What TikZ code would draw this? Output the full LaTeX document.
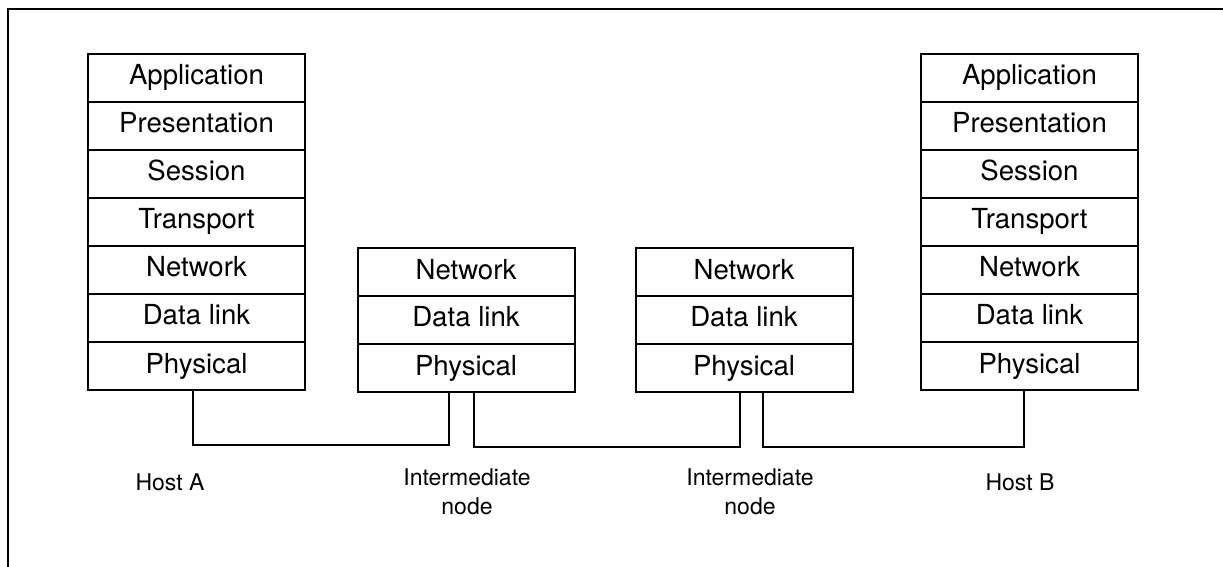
\documentclass[tikz,border=0pt]{standalone}
\usepackage{fontspec}
\setmainfont{TeX Gyre Heros}
\usepackage{tikz}
\usetikzlibrary{positioning}
\newcommand{\layerfont}{\fontsize{13.8}{16}\selectfont}
\newcommand{\labelfont}{\fontsize{11.5}{14.5}\selectfont}

\begin{document}
\begin{tikzpicture}[x=0.5pt,y=-0.5pt,line width=1pt,
  layer/.style={draw,rectangle,outer sep=0pt,inner sep=0pt,minimum width=108.5pt,minimum height=24pt,
    text height=9.7pt,text depth=2.7pt,font=\layerfont},
  hostlabel/.style={align=center,font=\labelfont}]
  \useasboundingbox (0,0) rectangle (1223,567);
  \draw (1223,9) -- (8,9) -- (8,567);
  % Host A
  \node[layer] (a1) at (196.5,78) {Application};
  \node[layer,below=0pt of a1] (a2) {Presentation};
  \node[layer,below=0pt of a2] (a3) {Session};
  \node[layer,below=0pt of a3] (a4) {Transport};
  \node[layer,below=0pt of a4] (a5) {Network};
  \node[layer,below=0pt of a5] (a6) {Data link};
  \node[layer,below=0pt of a6] (a7) {Physical};
  % first intermediate node
  \node[layer] (m1) at (466,272) {Network};
  \node[layer,below=0pt of m1] (m2) {Data link};
  \node[layer,below=0pt of m2] (m3) {Physical};
  % second intermediate node
  \node[layer] (n1) at (744,272) {Network};
  \node[layer,below=0pt of n1] (n2) {Data link};
  \node[layer,below=0pt of n2] (n3) {Physical};
  % Host B
  \node[layer] (b1) at (1029.5,78) {Application};
  \node[layer,below=0pt of b1] (b2) {Presentation};
  \node[layer,below=0pt of b2] (b3) {Session};
  \node[layer,below=0pt of b3] (b4) {Transport};
  \node[layer,below=0pt of b4] (b5) {Network};
  \node[layer,below=0pt of b5] (b6) {Data link};
  \node[layer,below=0pt of b6] (b7) {Physical};
  % links
  \draw ([xshift=-2pt]a7.south) -- ++(0,55) -| ([xshift=-8.5pt]m3.south);
  \draw ([xshift=4pt]m3.south) -- ++(0,55) -| ([xshift=-2pt]n3.south);
  \draw ([xshift=9.5pt]n3.south) -- ++(0,55) -| ([xshift=-3pt]b7.south);
  % labels
  \node[hostlabel] (labA) at (170,482) {Host A};
  \node[hostlabel] (labM) at (467,492) {Intermediate\\node};
  \node[hostlabel] (labN) at (750,492) {Intermediate\\node};
  \node[hostlabel] (labB) at (1020,482) {Host B};
\end{tikzpicture}
\end{document}
